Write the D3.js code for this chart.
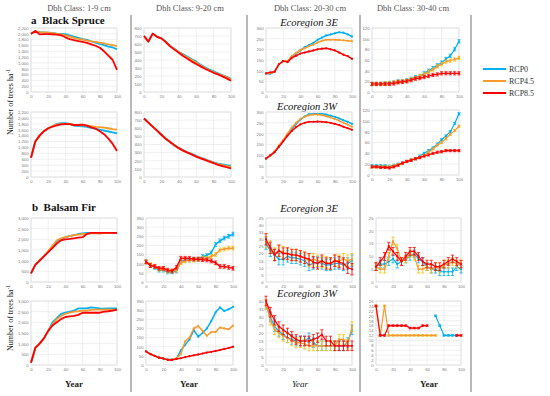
<!DOCTYPE html>
<html><head><meta charset="utf-8">
<script src="https://cdn.jsdelivr.net/npm/d3@7"></script>
<style>body{margin:0;background:#fff}svg{display:block}</style>
</head><body><svg id="c" width="550" height="396"></svg>
<script>
// ---------- DATA ----------
const years = [0,5,10,15,20,25,30,35,40,45,50,55,60,65,70,75,80,85,90,95,100];
const columnTitles = ["Dbh Class: 1-9 cm","Dbh Class: 9-20 cm","Dbh Class: 20-30 cm","Dbh Class: 30-40 cm"];
const seriesNames = ["RCP0","RCP4.5","RCP8.5"];
const xTicks = [0,20,40,60,80,100];

// Black Spruce, 1-9 cm
const bsA_3E_rcp0  = [2000,2080,2060,2050,2040,2030,2010,2000,1990,1950,1900,1860,1820,1790,1740,1700,1650,1610,1560,1530,1470];
const bsA_3E_rcp45 = [2000,2080,2060,2050,2040,2020,2000,1980,1950,1910,1860,1830,1800,1770,1740,1720,1700,1670,1640,1610,1580];
const bsA_3E_rcp85 = [2000,2100,1980,1990,1990,1980,1970,1950,1880,1820,1780,1750,1720,1690,1640,1590,1520,1400,1250,1100,760];
const bsA_3W_rcp0  = [650,1200,1400,1550,1650,1720,1800,1820,1820,1800,1740,1720,1710,1700,1660,1630,1600,1570,1540,1510,1480];
const bsA_3W_rcp45 = [650,1200,1400,1550,1650,1720,1780,1790,1800,1790,1760,1750,1750,1740,1720,1700,1690,1670,1650,1620,1600];
const bsA_3W_rcp85 = [650,1200,1400,1550,1650,1700,1750,1780,1790,1790,1760,1760,1770,1740,1680,1640,1550,1450,1300,1120,880];
// Black Spruce, 9-20 cm
const bsB_3E_rcp0  = [700,630,730,690,670,630,580,540,500,470,440,410,380,340,310,280,260,235,210,190,165];
const bsB_3E_rcp45 = [700,630,730,690,670,630,575,535,500,460,430,400,365,330,300,270,250,225,205,185,155];
const bsB_3E_rcp85 = [700,630,730,690,670,625,570,530,490,450,415,380,350,320,290,265,240,220,195,170,140];
const bsB_3W_rcp0  = [720,670,620,570,520,470,430,390,355,330,305,285,260,240,220,200,180,165,155,145,140];
const bsB_3W_rcp45 = [720,670,620,570,520,470,430,390,355,325,300,280,255,235,215,195,175,160,145,135,125];
const bsB_3W_rcp85 = [720,670,620,570,520,470,430,390,355,325,300,275,250,230,210,190,170,150,135,120,105];
// Black Spruce, 20-30 cm
const bsC_3E_rcp0  = [85,85,95,130,145,145,165,180,195,210,220,230,245,255,265,270,275,280,278,270,260];
const bsC_3E_rcp45 = [85,88,95,130,145,145,168,183,197,205,215,222,232,240,245,245,245,244,242,240,238];
const bsC_3E_rcp85 = [88,92,95,130,145,140,160,170,180,185,190,195,200,203,205,200,195,185,175,168,155];
const bsC_3W_rcp0  = [85,100,115,140,165,195,222,245,265,280,290,292,292,292,288,283,278,270,262,255,245];
const bsC_3W_rcp45 = [85,100,118,145,170,200,228,250,268,278,285,288,288,285,280,275,268,260,250,242,232];
const bsC_3W_rcp85 = [85,100,115,140,165,190,212,230,243,250,255,255,256,255,253,250,245,240,232,225,218];
// Black Spruce, 30-40 cm
const bsD_3E_rcp0  = [15,15,15,16,17,18,20,20,22,25,28,30,35,40,45,50,55,62,68,80,95];
const bsD_3E_rcp45 = [15,15,15,16,16,18,19,20,21,24,26,30,33,38,42,48,52,57,59,61,64];
const bsD_3E_rcp85 = [15,15,15,15,15,16,18,19,20,22,25,26,28,30,32,33,35,35,35,35,35];
const bsD_3W_rcp0  = [17,17,17,17,16,18,20,22,25,28,30,35,40,45,50,57,65,72,80,95,113];
const bsD_3W_rcp45 = [15,15,15,15,15,17,19,21,25,28,30,33,36,42,48,55,60,67,75,82,90];
const bsD_3W_rcp85 = [15,15,14,14,13,15,18,22,25,27,30,32,35,37,40,42,43,45,45,45,45];

// Balsam Fir, 1-9 cm
const bfA_3E_rcp0  = [400,800,1000,1200,1400,1650,1900,2000,2100,2150,2200,2250,2280,2300,2300,2300,2290,2290,2300,2300,2300];
const bfA_3E_rcp45 = [400,800,1000,1200,1450,1700,1950,2050,2100,2150,2200,2220,2250,2260,2280,2280,2270,2300,2300,2300,2300];
const bfA_3E_rcp85 = [400,800,1000,1200,1400,1600,1800,1950,2000,2020,2050,2080,2100,2250,2300,2300,2300,2300,2300,2300,2300];
const bfA_3W_rcp0  = [100,800,1000,1250,1600,2000,2200,2400,2450,2500,2550,2650,2650,2650,2700,2680,2650,2640,2650,2650,2650];
const bfA_3W_rcp45 = [100,800,1000,1250,1600,1900,2150,2300,2400,2450,2500,2520,2550,2550,2580,2600,2600,2600,2600,2600,2580];
const bfA_3W_rcp85 = [100,800,1000,1250,1600,1850,2000,2150,2250,2280,2300,2350,2450,2450,2450,2450,2450,2500,2520,2550,2600];
// Balsam Fir, 9-20 cm
const bfB_3E_rcp0  = [110,90,80,65,65,55,55,60,110,120,120,125,125,140,145,160,205,225,240,250,262];
const bfB_3E_rcp45 = [110,95,85,70,70,60,60,65,105,115,120,120,125,130,130,140,150,175,180,185,185];
const bfB_3E_rcp85 = [110,90,85,75,75,65,60,80,130,130,130,125,125,122,120,115,105,85,85,80,75];
const bfB_3W_rcp0  = [75,60,50,40,35,30,30,35,80,110,140,190,155,175,200,240,288,315,295,305,318];
const bfB_3W_rcp45 = [75,60,50,40,35,30,30,35,60,130,150,200,213,187,160,180,180,205,200,195,215];
const bfB_3W_rcp85 = [75,60,50,40,35,28,28,33,37,43,48,53,58,63,68,72,77,82,88,93,100];
// Balsam Fir, 20-30 cm
const bfC_3E_rcp0  = [27,22,19,16,16,18,17,17,16,15,12,13,14,13,12,12,13,13,12,13,15];
const bfC_3E_rcp45 = [28,25,20,22,21,20,19,19,18,17,15,16,15,14,14,13,15,15,16,15,16];
const bfC_3E_rcp85 = [30,24,19,22,20,20,19,19,18,17,16,14,13,15,13,13,15,14,13,10,9];
const bfC_3W_rcp0  = [38,30,24,21,19,17,16,15,15,15,17,14,12,12,12,12,12,12,12,14,22];
const bfC_3W_rcp45 = [38,28,22,20,18,17,15,14,14,13,12,12,12,12,12,12,12,16,16,13,24];
const bfC_3W_rcp85 = [40,33,28,24,22,20,18,16,15,15,15,16,17,19,15,15,12,12,12,12,12];
// Balsam Fir, 30-40 cm
const bfD_3E_rcp0  = [6,7,7,8,9,7,8,9,10,11,9,8,6,5,5,4,4,4,4,6,5];
const bfD_3E_rcp45 = [6,5,5,10,16,13,8,9,11,10,5,5,6,5,6,5,7,7,8,7,7];
const bfD_3E_rcp85 = [6,8,10,14,12,10,8,10,12,12,10,8,7,7,6,6,7,8,9,8,7];
const bfD_3W_rcp0  = [null,null,null,null,null,null,null,null,null,null,null,null,null,null,20,16,12,12,12,12,null];
const bfD_3W_rcp45 = [24,12,24,12,12,12,12,12,12,12,12,12,12,12,12,null,null,null,null,null,null];
const bfD_3W_rcp85 = [24,12,12,16,16,16,16,16,15,15,15,16,16,null,null,null,null,null,null,12,12];

// error-bar half widths (trees/ha) per panel, 0 = none
const errBF_9_20_3E = 10, errBF_20_30_3E = 4, errBF_20_30_3W = 3;
const errBS_30_40_3E = 3, errBS_30_40_3W = 2, errBF_30_40_3E = 1.5, errBF_30_40_3W = 0.3;

// ---------- LAYOUT ----------
const colors = ["#00B0F0","#F79A2E","#FF0000"];
const errColors = ["#00B0F0","#FFC000","#FF0000"];
const colXa = [[31,117],[144,231],[266,352],[372,459]];
const colXb = [[31,117],[146,233],[266,352],[376,461]];
const rowY = [[28,92],[112,177],[218,282],[301,365]];

const panels = [
  {c:0,r:0,ymax:2200,step:200,s:[bsA_3E_rcp0,bsA_3E_rcp45,bsA_3E_rcp85],err:0,mk:false,lw:1.8},
  {c:0,r:1,ymax:2200,step:200,s:[bsA_3W_rcp0,bsA_3W_rcp45,bsA_3W_rcp85],err:0,mk:false,lw:1.8},
  {c:1,r:0,ymax:800,step:100,s:[bsB_3E_rcp0,bsB_3E_rcp45,bsB_3E_rcp85],err:0,mk:false,lw:1.8},
  {c:1,r:1,ymax:800,step:100,s:[bsB_3W_rcp0,bsB_3W_rcp45,bsB_3W_rcp85],err:0,mk:false,lw:1.8},
  {c:2,r:0,ymax:300,step:50,s:[bsC_3E_rcp0,bsC_3E_rcp45,bsC_3E_rcp85],err:0,mk:true,lw:1.5},
  {c:2,r:1,ymax:300,step:50,s:[bsC_3W_rcp0,bsC_3W_rcp45,bsC_3W_rcp85],err:0,mk:true,lw:1.5},
  {c:3,r:0,ymax:120,step:20,s:[bsD_3E_rcp0,bsD_3E_rcp45,bsD_3E_rcp85],err:errBS_30_40_3E,mk:true,lw:1.2},
  {c:3,r:1,ymax:120,step:20,s:[bsD_3W_rcp0,bsD_3W_rcp45,bsD_3W_rcp85],err:errBS_30_40_3W,mk:true,lw:1.2},
  {c:0,r:2,ymax:3000,step:500,s:[bfA_3E_rcp0,bfA_3E_rcp45,bfA_3E_rcp85],err:0,mk:false,lw:1.8},
  {c:0,r:3,ymax:3000,step:500,s:[bfA_3W_rcp0,bfA_3W_rcp45,bfA_3W_rcp85],err:0,mk:false,lw:1.8},
  {c:1,r:2,ymax:350,step:50,s:[bfB_3E_rcp0,bfB_3E_rcp45,bfB_3E_rcp85],err:errBF_9_20_3E,mk:true,lw:1.5},
  {c:1,r:3,ymax:350,step:50,s:[bfB_3W_rcp0,bfB_3W_rcp45,bfB_3W_rcp85],err:0,mk:true,lw:1.5},
  {c:2,r:2,ymax:45,step:5,s:[bfC_3E_rcp0,bfC_3E_rcp45,bfC_3E_rcp85],err:errBF_20_30_3E,mk:true,lw:1.2},
  {c:2,r:3,ymax:40,step:5,s:[bfC_3W_rcp0,bfC_3W_rcp45,bfC_3W_rcp85],err:errBF_20_30_3W,mk:true,lw:1.2},
  {c:3,r:2,ymax:25,step:5,s:[bfD_3E_rcp0,bfD_3E_rcp45,bfD_3E_rcp85],err:errBF_30_40_3E,mk:true,lw:1.2},
  {c:3,r:3,ymax:26,step:2,s:[bfD_3W_rcp0,bfD_3W_rcp45,bfD_3W_rcp85],err:errBF_30_40_3W,mk:true,lw:1.2}
];

const svg = d3.select("#c");
const serif = "'Liberation Serif','Times New Roman',serif";
const sans = "'Liberation Sans',Arial,sans-serif";

// separators
[131,247,360,471].forEach(xv=>{
  svg.append("line").attr("x1",xv).attr("x2",xv).attr("y1",15).attr("y2",392)
    .attr("stroke","#9a9a9a").attr("stroke-width",1.4);
});

// column headers
const headerX = [79,190,310,413];
columnTitles.forEach((t,i)=>{
  svg.append("text").attr("x",headerX[i]).attr("y",11).attr("text-anchor","middle")
    .attr("font-family",serif).attr("font-size",8.5).attr("fill","#555").text(t);
});

// species labels
svg.append("text").attr("x",31).attr("y",23.5).attr("font-family",serif).attr("font-weight","bold")
  .attr("font-size",11).attr("fill","#111").attr("xml:space","preserve").text("a  Black Spruce");
svg.append("text").attr("x",32).attr("y",211).attr("font-family",serif).attr("font-weight","bold")
  .attr("font-size",11).attr("fill","#111").attr("xml:space","preserve").text("b  Balsam Fir");

// Ecoregion labels
[["Ecoregion 3E",309,25.5],["Ecoregion 3W",307,109.5],["Ecoregion 3E",309,211.5],["Ecoregion 3W",307,296.5]].forEach(d=>{
  svg.append("text").attr("x",d[1]).attr("y",d[2]).attr("text-anchor","middle")
    .attr("font-family",serif).attr("font-style","italic").attr("font-size",10.5).attr("fill","#111").text(d[0]);
});

// y labels
[102,318].forEach(cy=>{
  const t = svg.append("text").attr("transform",`translate(13,${cy}) rotate(-90)`)
    .attr("text-anchor","middle").attr("font-family",serif).attr("font-size",8).attr("fill","#222");
  t.append("tspan").text("Number of trees ha");
  t.append("tspan").attr("dy",-3).attr("font-size",5.5).text("-1");
});

// Year labels
[[74,false],[189,false],[300,true],[429,false]].forEach(d=>{
  svg.append("text").attr("x",d[0]).attr("y",387).attr("text-anchor","middle")
    .attr("font-family",serif).attr("font-weight",d[1]?"normal":"bold").attr("font-style",d[1]?"italic":"normal")
    .attr("font-size",9).attr("fill","#222").text("Year");
});

// legend
seriesNames.forEach((n,i)=>{
  const yy = 69 + i*12;
  svg.append("line").attr("x1",483).attr("x2",506).attr("y1",yy).attr("y2",yy)
    .attr("stroke",colors[i]).attr("stroke-width",2);
  svg.append("text").attr("x",509).attr("y",yy+2.8).attr("font-family",serif)
    .attr("font-size",8).attr("fill","#333").text(n);
});

// panels
panels.forEach(p=>{
  const xr = (p.r<2?colXa:colXb)[p.c];
  let yr = rowY[p.r];
  if(p.c===3 && p.r===1) yr=[110,175];
  const x = d3.scaleLinear().domain([0,100]).range(xr);
  const y = d3.scaleLinear().domain([0,p.ymax]).range([yr[1],yr[0]]);
  const yt = d3.range(0,p.ymax+p.step/2,p.step);
  const g = svg.append("g");
  g.append("rect").attr("x",xr[0]).attr("y",yr[0]).attr("width",xr[1]-xr[0]).attr("height",yr[1]-yr[0])
    .attr("fill","#fff").attr("stroke","#cfcfcf").attr("stroke-width",0.6);
  g.selectAll(".hg").data(yt).join("line").attr("x1",xr[0]).attr("x2",xr[1])
    .attr("y1",d=>y(d)).attr("y2",d=>y(d)).attr("stroke","#e0e0e0").attr("stroke-width",0.5);
  g.selectAll(".vg").data(xTicks).join("line").attr("y1",yr[0]).attr("y2",yr[1])
    .attr("x1",d=>x(d)).attr("x2",d=>x(d)).attr("stroke","#e0e0e0").attr("stroke-width",0.5);
  const ax = g.append("g").attr("transform",`translate(${xr[0]},0)`)
    .call(d3.axisLeft(y).tickValues(yt).tickSize(0).tickPadding(2.5));
  const bx = g.append("g").attr("transform",`translate(0,${yr[1]})`)
    .call(d3.axisBottom(x).tickValues(xTicks).tickSize(0).tickPadding(3));
  [ax,bx].forEach(a=>{
    a.select(".domain").remove();
    a.selectAll("text").attr("font-size",4.2).attr("fill","#777").attr("font-family",sans);
  });
  p.s.forEach((arr,si)=>{
    const pts = arr.map((v,i)=>({x:years[i],v})).filter(d=>d.v!=null);
    if(p.err){
      const eg = g.append("g").attr("stroke",errColors[si]).attr("stroke-width",0.8);
      pts.forEach(d=>{
        const cx=x(d.x), ya=y(Math.max(0,d.v-p.err)), yb=y(d.v+p.err);
        eg.append("line").attr("x1",cx).attr("x2",cx).attr("y1",ya).attr("y2",yb);
        eg.append("line").attr("x1",cx-1.6).attr("x2",cx+1.6).attr("y1",ya).attr("y2",ya);
        eg.append("line").attr("x1",cx-1.6).attr("x2",cx+1.6).attr("y1",yb).attr("y2",yb);
      });
    }
    const line = d3.line().defined(d=>d!=null).x((d,i)=>x(years[i])).y(d=>y(d));
    g.append("path").datum(arr).attr("d",line).attr("fill","none")
      .attr("stroke",colors[si]).attr("stroke-width",p.lw).attr("stroke-linejoin","round");
    if(p.mk){
      g.selectAll(null).data(pts).join("circle").attr("cx",d=>x(d.x)).attr("cy",d=>y(d.v))
        .attr("r",1.1).attr("fill",colors[si]);
    }
  });
});
</script></body></html>
